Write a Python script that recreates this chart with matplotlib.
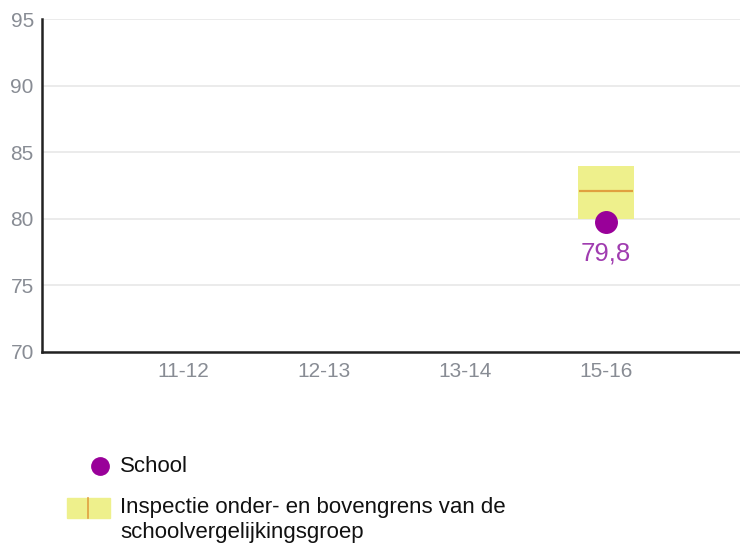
import matplotlib
matplotlib.use("Agg")
import matplotlib.pyplot as plt
from matplotlib.patches import Rectangle
from matplotlib.lines import Line2D

plt.rcParams['font.family'] = ['Liberation Sans', 'DejaVu Sans']

# data
years = ['11-12', '12-13', '13-14', '15-16']
school_year = '15-16'
school_score = 79.8
band_low = 80.0
band_high = 84.0
band_mid = 82.1

purple = '#990099'
yellow = '#eef08c'
orange = '#e0a040'
gray_txt = '#888c94'

fig = plt.figure(figsize=(7.4, 5.47), dpi=100)
ax = fig.add_axes([0.057, 0.3565, 0.943, 0.6085])

xpos = list(range(len(years)))
xi = years.index(school_year)

# comparison group band
ax.bar(xi, band_high - band_low, bottom=band_low, width=0.4,
       color=yellow, zorder=2)
ax.hlines(band_mid, xi - 0.19, xi + 0.19, color=orange, lw=1.6, zorder=3)

# school score
ax.plot(xi, school_score, 'o', color=purple, markersize=15.5, zorder=4)
ax.annotate(f'{school_score:.1f}'.replace('.', ','), (xi, school_score),
            xytext=(0, -23), textcoords='offset points', ha='center', va='center',
            fontsize=18.5, color='#a03cb0', zorder=5)

ax.set_xlim(-1, 3.95)
ax.set_ylim(70, 95)
ax.set_yticks([70, 75, 80, 85, 90, 95])
ax.set_xticks(xpos)
ax.set_xticklabels(years)
ax.tick_params(length=0, labelsize=15, labelcolor=gray_txt)
ax.tick_params(axis='x', pad=7)
ax.tick_params(axis='y', pad=6)
ax.yaxis.grid(True, color='#e8e8e8', lw=1.2, zorder=0)
ax.set_axisbelow(True)
for s in ['top', 'right']:
    ax.spines[s].set_visible(False)
for s in ['left', 'bottom']:
    ax.spines[s].set_color('#222222')
    ax.spines[s].set_linewidth(1.8)

# legend
fig.add_artist(Line2D([0.135], [0.148], marker='o', color=purple,
                      markersize=12.5, linestyle='none', transform=fig.transFigure))
fig.text(0.162, 0.148, 'School', fontsize=16, color='#111111', va='center')
fig.add_artist(Rectangle((0.0905, 0.053), 0.058, 0.0366, color=yellow,
                         transform=fig.transFigure))
fig.add_artist(Line2D([0.119, 0.119], [0.053, 0.0896], color=orange, lw=1.2,
                      transform=fig.transFigure))
fig.text(0.162, 0.0713, 'Inspectie onder- en bovengrens van de', fontsize=16,
         color='#111111', va='center')
fig.text(0.162, 0.0256, 'schoolvergelijkingsgroep', fontsize=16,
         color='#111111', va='center')

fig.savefig('out.png', dpi=100)
